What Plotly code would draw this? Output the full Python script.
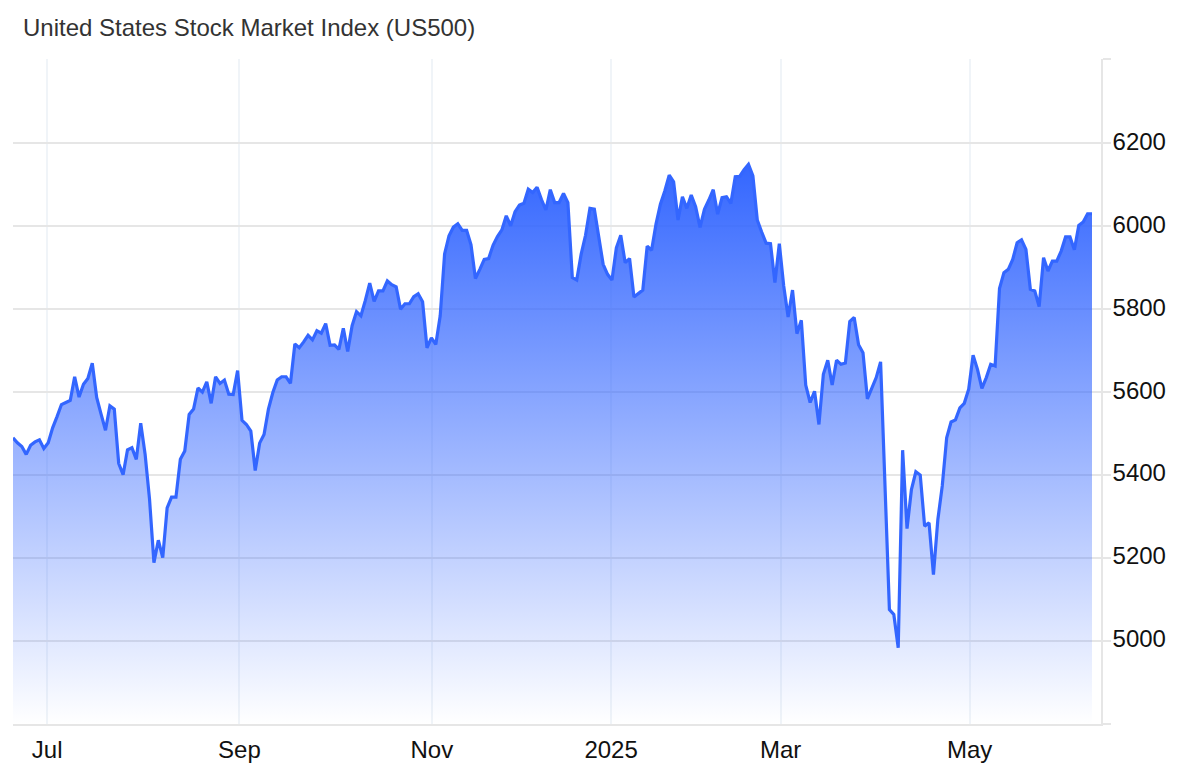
import plotly.graph_objects as go

# 取引日ごとの終値（チャートから読み取り）
close_2024h2 = [
    5490, 5478, 5469, 5450, 5472, 5480, 5485, 5464, 5478, 5514, 5541, 5570, 5575, 5580, 5637, 5588,
    5619, 5633, 5670, 5587, 5547, 5508, 5567, 5559, 5428, 5401, 5461, 5466, 5438, 5525, 5450, 5342,
    5189, 5243, 5201, 5321, 5347, 5347, 5438, 5458, 5546, 5559, 5610, 5600, 5625, 5573, 5637, 5621,
    5629, 5595, 5594, 5652, 5532, 5522, 5506, 5411, 5477, 5498, 5559, 5599, 5629, 5637, 5637, 5621,
    5716, 5707, 5721, 5737, 5726, 5748, 5742, 5765, 5713, 5714, 5703, 5754, 5698, 5760, 5794, 5784,
    5821, 5863, 5819, 5844, 5844, 5868, 5859, 5854, 5800, 5813, 5813, 5830, 5837, 5818, 5707, 5731,
    5715, 5784, 5933, 5977, 5998, 6006, 5990, 5990, 5955, 5874, 5896, 5920, 5922, 5954, 5975, 5991,
    6025, 6001, 6035, 6051, 6055, 6089, 6081, 6094, 6064, 6039, 6088, 6057, 6057, 6079, 6057,
]
close_2025 = [
    5876, 5870, 5932, 5978, 6043, 6041, 5973, 5908, 5884, 5870, 5948, 5978, 5912, 5922, 5829, 5838,
    5846, 5952, 5942, 6005, 6053, 6085, 6123, 6107, 6015, 6071, 6043, 6075, 6047, 5997, 6041, 6063,
    6088, 6029, 6069, 6071, 6055, 6119, 6120, 6136, 6149, 6121, 6015, 5986, 5959, 5958, 5864, 5958,
    5856, 5781, 5846, 5741, 5773, 5617, 5575, 5602, 5522, 5643, 5677, 5617, 5677, 5667, 5670, 5770,
    5780, 5714, 5695, 5584, 5608, 5635, 5673, 5398, 5076, 5064, 4984, 5460, 5271, 5365, 5408, 5400,
    5277, 5285, 5160, 5293, 5374, 5490, 5528, 5533, 5562, 5573, 5607, 5689, 5655, 5609, 5635, 5667,
    5663, 5850, 5888, 5896, 5920, 5960, 5967, 5944, 5848, 5844, 5806, 5924, 5892, 5916, 5916, 5940,
    5974, 5974, 5943, 6002, 6010, 6030, 6030,
]
close = close_2024h2 + close_2025
days = list(range(len(close)))

month_labels = ["Jul", "Sep", "Nov", "2025", "Mar", "May"]
month_days = [7.75, 51.4, 95.1, 135.8, 174.3, 217.2]

y_labels = ["", "5000", "5200", "5400", "5600", "5800", "6000", "6200", ""]
y_ticks = [4800, 5000, 5200, 5400, 5600, 5800, 6000, 6200, 6403]

fig = go.Figure()

fig.add_trace(
    go.Scatter(
        x=days,
        y=close,
        mode="lines",
        line=dict(color="#3366ff", width=3.2),
        fill="tozeroy",
        fillgradient=dict(
            type="vertical",
            start=4800,
            stop=6150,
            colorscale=[[0, "rgba(51,102,255,0)"], [1, "rgba(51,102,255,1)"]],
        ),
        hoverinfo="skip",
    )
)

# ページ本体に 8px の余白が付くので、その分だけ内側に寄せる
fig.update_layout(
    title=dict(
        text="United States Stock Market Index (US500)",
        x=15 / 1184,
        xanchor="left",
        y=1 - 20 / 768,
        yanchor="middle",
        font=dict(family="Liberation Sans", size=24, color="#333333"),
    ),
    width=1184,
    height=768,
    margin=dict(l=5, r=91, t=51, b=52),
    plot_bgcolor="white",
    paper_bgcolor="white",
    showlegend=False,
)
fig.update_xaxes(
    range=[0, (1101 - 13) / (1079 / (len(close) - 1))],
    tickvals=month_days,
    ticktext=month_labels,
    showgrid=True,
    gridcolor="#f0f4f8",
    gridwidth=1.5,
    showline=True,
    linecolor="#e6e6e6",
    linewidth=1.5,
    zeroline=False,
    ticks="",
    ticklabelstandoff=3,
    tickfont=dict(family="Liberation Sans", size=24, color="#111111"),
)
fig.update_yaxes(
    range=[4800, 6403],
    side="right",
    tickvals=y_ticks,
    ticktext=y_labels,
    showgrid=True,
    gridcolor="#e6e6e6",
    gridwidth=1.5,
    showline=True,
    linecolor="#e6e6e6",
    linewidth=1.5,
    zeroline=False,
    ticks="outside",
    ticklen=8,
    tickwidth=1.5,
    tickcolor="#e6e6e6",
    ticklabelstandoff=-3,
    ticklabelshift=-2,
    tickfont=dict(family="Liberation Sans", size=24, color="#111111"),
)

fig.write_html("out.html")
